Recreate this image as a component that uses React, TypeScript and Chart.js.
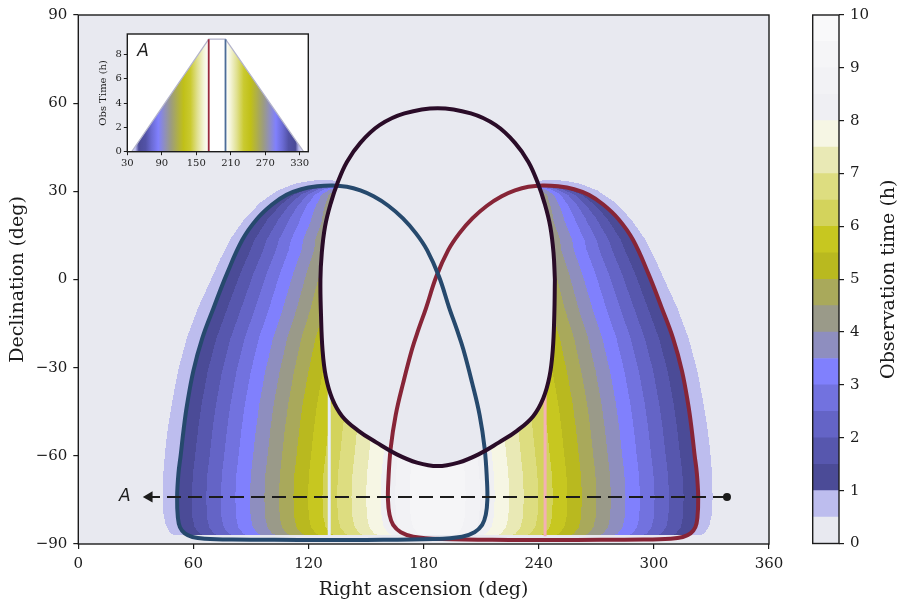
import React, { useEffect, useRef } from "react";
import { Chart, registerables } from "chart.js";

Chart.register(...registerables);

const SERIF = "'DejaVu Serif', serif";
const SANS = "'DejaVu Sans', sans-serif";
const INK = "#1c1c1c";
const PANEL_BG = "#e8e9f0";

// First observing window outline (RA, Dec in degrees)
const blueRA = [115, 80, 66, 59.5, 55.5, 53, 51.9, 51.5, 52.2, 53.4, 54.9, 56.7, 60, 64.6, 70.6, 77.5, 85.5, 93, 101, 108.5, 116.2, 124.5, 132.5, 140, 147, 153.9, 161.6, 169.2, 176, 181.8, 188, 193.4, 197.3, 200.7, 205.2, 209.2, 211.8, 213, 213.2, 212.4, 210.5, 206.5, 200, 185, 150, 115];
const blueDec = [-88.6, -88.5, -88.2, -87.6, -86.4, -84.3, -81, -74, -66, -59.6, -51, -42.6, -31, -20, -9.5, 2, 13.5, 20.5, 25.5, 28.8, 30.7, 31.7, 32, 31.55, 30.3, 28.3, 25.1, 20.8, 15.7, 10, 1, -9.8, -17, -23.8, -35, -46.2, -57.5, -68.5, -75, -80, -83.5, -86, -87.5, -88.3, -88.6, -88.6];

// Second observing window outline
const redRA = [259.6, 294.6, 308.6, 315.1, 319.1, 321.6, 322.7, 323.1, 322.4, 321.2, 319.7, 317.9, 314.6, 310, 304, 297.1, 289.1, 281.6, 273.6, 266.1, 258.4, 250.1, 242.1, 234.6, 227.6, 220.7, 213, 205.4, 198.6, 192.8, 186.6, 181.2, 177.3, 173.9, 169.4, 165.4, 162.8, 161.6, 161.4, 162.2, 164.1, 168.1, 174.6, 189.6, 224.6, 259.6];
const redDec = [-88.6, -88.5, -88.2, -87.6, -86.4, -84.3, -81, -74, -66, -59.6, -51, -42.6, -31, -20, -9.5, 2, 13.5, 20.5, 25.5, 28.8, 30.7, 31.7, 32, 31.55, 30.3, 28.3, 25.1, 20.8, 15.7, 10, 1, -9.8, -17, -23.8, -35, -46.2, -57.5, -68.5, -75, -80, -83.5, -86, -87.5, -88.3, -88.6, -88.6];

// Exclusion zone outline
const sunRA = [248.4, 248.1, 247.3, 245.6, 242.3, 237.1, 228.6, 219.1, 208.6, 198.1, 187.3, 176.5, 166, 155.5, 146, 137.5, 132.3, 129, 127.3, 126.5, 126.2, 126.9, 128.6, 131.6, 135.2, 140, 147, 157, 170, 187.3, 204.6, 217.6, 227.6, 234.6, 239.4, 243, 246, 247.7, 248.4];
const sunDec = [0, -12, -24, -33, -40.5, -46.5, -51.5, -55.5, -59.5, -62.3, -63.5, -62.3, -59.5, -55.5, -51.5, -46.5, -40.5, -33, -24, -12, 0, 9, 18, 26, 33, 40, 46.5, 52.5, 56.5, 58.3, 56.5, 52.5, 46.5, 40, 33, 26, 18, 9, 0];

// Outer edge of the 0.5 h contour
const edgeRA = [52, 48, 45.6, 44.3, 44, 44.3, 45.3, 46.8, 48.8, 52, 56.5, 62.5, 68.5, 74, 79.5, 86.5, 95, 104, 113, 121, 128, 135, 150, 224.6, 239.6, 246.6, 253.6, 261.6, 270.6, 279.6, 288.1, 295.1, 300.6, 306.1, 312.1, 318.1, 322.6, 325.8, 327.8, 329.3, 330.3, 330.6, 330.3, 329, 326.6, 322.6];
const edgeDec = [-87.5, -86.3, -83.5, -79.5, -74, -66, -58, -50, -42, -31, -20, -9.5, -1, 7, 14, 20.5, 26.3, 30.3, 32.6, 33.6, 33.9, 33.6, 30, 30, 33.6, 33.9, 33.6, 32.6, 30.3, 26.3, 20.5, 14, 7, -1, -9.5, -20, -31, -42, -50, -58, -66, -74, -79.5, -83.5, -86.3, -87.5];

// RA degrees per hour of observing time, by declination
const spacingDec = [-90, -30, -10, 10, 20, 26, 30, 32.5];
const spacingDeg = [15.2, 15, 14.5, 13.3, 11.5, 9, 6.5, 5];
const maxHours = 9.27;
const bandFloorDec = -87;

// Colour levels (hours)
const levelEdges = [0, 0.5, 1, 1.5, 2, 2.5, 3, 3.5, 4, 4.5, 5, 5.5, 6, 6.5, 7, 7.5, 8, 8.5, 9, 9.5, 10];
const bandColors = ["#e8e9f0", "#bdbdee", "#4b4b97", "#5757ae", "#6464c6", "#7272df", "#8080fd", "#8e8ebf", "#9a9a89", "#a9a95b", "#b9b91f", "#c7c720", "#d3d35c", "#dddd80", "#e9e9b5", "#f6f6e4", "#efeff3", "#f2f2f5", "#f5f5f7", "#f9f9fa"];
const cbarTicks = [0, 1, 2, 3, 4, 5, 6, 7, 8, 9, 10];

// Vertical markers
const markRA = [130.8, 243.3];
const markTopDec = [-37, -35];
const markBottomDec = -87.4;
const markColors = ["#e4ecfb", "#f3b1b5"];

// Cut A
const cutRA = [338.1, 37.0];
const cutDec = [-74, -74];
const cutLabel = { ra: 24.3, dec: -74, text: "A" };

// Profile along cut A (inset)
const insetRA = [37.7, 171.7, 200.9, 336.8];
const insetHours = [0, 9.27, 9.27, 0];
const insetMarkRA = [171.7, 200.9];
const insetShadeRA = [30, 37.7, 44, 50, 62, 72, 84, 96, 106, 116, 128, 140, 152, 163, 171.7, 200.9, 209.6, 220.6, 232.6, 244.6, 256.6, 266.6, 276.6, 288.6, 300.6, 310.6, 322.6, 328.6, 334.9, 345];
const insetShadeColor = ["#ffffff", "#e6e6f4", "#babaee", "#4b4b97", "#5252a6", "#6a6ad2", "#8080fd", "#9090b8", "#9c9c80", "#acac50", "#c0c018", "#caca30", "#e0e090", "#f4f4d8", "#ffffff", "#ffffff", "#f4f4d8", "#e0e090", "#caca30", "#c0c018", "#acac50", "#9c9c80", "#9090b8", "#8080fd", "#6a6ad2", "#5252a6", "#4b4b97", "#babaee", "#e6e6f4", "#ffffff"];
const insetXTicks = [30, 90, 150, 210, 270, 330];
const insetYTicks = [0, 2, 4, 6, 8];
const insetLabel = { ra: 57.3, hours: 8.27, text: "A" };

const pts = (xs: number[], ys: number[]) => xs.map((x, i) => ({ x, y: ys[i] }));

function interp(xs: number[], ys: number[], v: number): number {
  if (v <= xs[0]) return ys[0];
  for (let i = 1; i < xs.length; i++) {
    if (v <= xs[i]) {
      const f = (v - xs[i - 1]) / (xs[i] - xs[i - 1]);
      return ys[i - 1] + f * (ys[i] - ys[i - 1]);
    }
  }
  return ys[ys.length - 1];
}

// Outer flank of a window outline: walk back from the highest point down to the floor
function outerFlank(ra: number[], dec: number[]) {
  let p = 0;
  for (let i = 1; i < dec.length; i++) if (dec[i] > dec[p]) p = i;
  const d: number[] = [];
  const r: number[] = [];
  for (let i = p; i >= 0; i--) {
    d.unshift(dec[i]);
    r.unshift(ra[i]);
    if (dec[i] <= bandFloorDec) break;
  }
  return { d, r, top: dec[p] };
}

function crossings(ra: number[], dec: number[], y: number): number[] {
  const out: number[] = [];
  for (let i = 0, j = ra.length - 1; i < ra.length; j = i++) {
    if (dec[i] > y !== dec[j] > y) {
      out.push(ra[i] + ((y - dec[i]) * (ra[j] - ra[i])) / (dec[j] - dec[i]));
    }
  }
  return out.sort((a, b) => a - b);
}

function hexRgb(h: string): number[] {
  const n = parseInt(h.slice(1), 16);
  return [(n >> 16) & 255, (n >> 8) & 255, n & 255];
}

const minus = (v: number | string) => String(v).replace("-", "\u2212");

const obsTimeField = {
  id: "obsTimeField",
  beforeDatasetsDraw(chart: any) {
    const { ctx, chartArea: a, scales } = chart;
    const xs = scales.x;
    const ys = scales.y;
    ctx.save();
    ctx.fillStyle = PANEL_BG;
    ctx.fillRect(a.left, a.top, a.right - a.left, a.bottom - a.top);
    const x0 = Math.floor(a.left);
    const y0 = Math.floor(a.top);
    const w = Math.ceil(a.right) - x0;
    const h = Math.ceil(a.bottom) - y0;
    const buf = document.createElement("canvas");
    buf.width = w;
    buf.height = h;
    const bctx = buf.getContext("2d")!;
    const img = bctx.createImageData(w, h);
    const rgb = bandColors.map(hexRgb);
    const L = outerFlank(blueRA, blueDec);
    const R = outerFlank(redRA, redDec);
    const raAt = new Float64Array(w);
    for (let i = 0; i < w; i++) raAt[i] = xs.getValueForPixel(x0 + i + 0.5);
    for (let j = 0; j < h; j++) {
      const dec = ys.getValueForPixel(y0 + j + 0.5);
      if (dec < bandFloorDec || dec > 40) continue;
      const step = interp(spacingDec, spacingDeg, dec);
      const bl = dec <= L.top ? interp(L.d, L.r, dec) : NaN;
      const br = dec <= R.top ? interp(R.d, R.r, dec) : NaN;
      const ex = crossings(edgeRA, edgeDec, dec);
      const sx = crossings(sunRA, sunDec, dec);
      let ei = 0;
      let si = 0;
      for (let i = 0; i < w; i++) {
        const ra = raAt[i];
        while (ei < ex.length && ex[ei] < ra) ei++;
        while (si < sx.length && sx[si] < ra) si++;
        if (si % 2 === 1) continue;
        const tl = isNaN(bl) ? -1 : 1 + (ra - bl) / step;
        const tr = isNaN(br) ? -1 : 1 + (br - ra) / step;
        let t = Math.min(tl, tr, maxHours);
        if (t < 1) t = ei % 2 === 1 ? 0.75 : 0;
        if (t < 0.5) continue;
        const k = Math.min(bandColors.length - 1, Math.floor(t / 0.5));
        const c = rgb[k];
        const o = (j * w + i) * 4;
        img.data[o] = c[0];
        img.data[o + 1] = c[1];
        img.data[o + 2] = c[2];
        img.data[o + 3] = 255;
      }
    }
    bctx.putImageData(img, 0, 0);
    ctx.beginPath();
    ctx.rect(a.left, a.top, a.right - a.left, a.bottom - a.top);
    ctx.clip();
    ctx.drawImage(buf, x0, y0);
    ctx.restore();
  },
  afterDatasetsDraw(chart: any) {
    const { ctx, chartArea: a, scales } = chart;
    ctx.save();
    ctx.strokeStyle = INK;
    ctx.lineWidth = 1.4;
    ctx.strokeRect(a.left, a.top, a.right - a.left, a.bottom - a.top);
    ctx.fillStyle = INK;
    ctx.font = `italic 17px ${SANS}`;
    ctx.textAlign = "center";
    ctx.textBaseline = "middle";
    ctx.fillText(cutLabel.text, scales.x.getPixelForValue(cutLabel.ra), scales.y.getPixelForValue(cutLabel.dec));
    ctx.restore();
  },
};

const cbarDecor = {
  id: "cbarDecor",
  afterDraw(chart: any) {
    const { ctx, chartArea: a } = chart;
    ctx.save();
    ctx.strokeStyle = INK;
    ctx.lineWidth = 1.4;
    ctx.strokeRect(a.left, a.top, a.right - a.left, a.bottom - a.top);
    ctx.translate(99, (a.top + a.bottom) / 2);
    ctx.rotate(-Math.PI / 2);
    ctx.fillStyle = INK;
    ctx.font = `19px ${SERIF}`;
    ctx.textAlign = "center";
    ctx.textBaseline = "middle";
    ctx.fillText("Observation time (h)", 0, 0);
    ctx.restore();
  },
};

const insetDecor = {
  id: "insetDecor",
  beforeDatasetsDraw(chart: any) {
    const { ctx, chartArea: a } = chart;
    ctx.save();
    ctx.fillStyle = "#ffffff";
    ctx.fillRect(a.left, a.top, a.right - a.left, a.bottom - a.top);
    ctx.restore();
  },
  afterDraw(chart: any) {
    const { ctx, chartArea: a, scales } = chart;
    ctx.save();
    ctx.strokeStyle = INK;
    ctx.lineWidth = 1.4;
    ctx.strokeRect(a.left, a.top, a.right - a.left, a.bottom - a.top);
    ctx.fillStyle = INK;
    ctx.font = `italic 17px ${SANS}`;
    ctx.textAlign = "center";
    ctx.textBaseline = "middle";
    ctx.fillText(insetLabel.text, scales.x.getPixelForValue(insetLabel.ra), scales.y.getPixelForValue(insetLabel.hours));
    ctx.restore();
  },
};

const tickFont = { family: SERIF, size: 15 };
const axisGrid = { drawOnChartArea: false, drawTicks: true, tickLength: 5, color: INK, lineWidth: 1.2 };

function mainConfig(): any {
  const line = (color: string, width: number, order: number, data: any[], extra: any = {}) => ({
    data,
    borderColor: color,
    borderWidth: width,
    pointRadius: 0,
    fill: false,
    order,
    ...extra,
  });
  return {
    type: "line",
    data: {
      datasets: [
        line(INK, 2.2, 0, pts(cutRA, cutDec), {
          borderDash: [14, 7],
          pointStyle: ["circle", "triangle"],
          pointRadius: [4, 6.5],
          pointRotation: [0, -90],
          pointBackgroundColor: INK,
          pointBorderColor: INK,
          pointBorderWidth: 0,
        }),
        line("#2a0c28", 4, 1, pts(sunRA, sunDec), { tension: 0.4 }),
        line("#26496d", 4, 2, pts(blueRA, blueDec), { tension: 0.4 }),
        line("#872537", 4, 3, pts(redRA, redDec), { tension: 0.4 }),
        line("rgba(0,0,0,0)", 0, 4, pts(sunRA, sunDec), { tension: 0.4, fill: "shape", backgroundColor: PANEL_BG }),
        ...markRA.map((r, i) =>
          line(markColors[i], 3, 5 + i, [
            { x: r, y: markBottomDec },
            { x: r, y: markTopDec[i] },
          ])
        ),
      ],
    },
    options: {
      responsive: false,
      animation: false,
      devicePixelRatio: 1,
      events: [],
      layout: { padding: { left: 0, right: 132, top: 7.3, bottom: 0 } },
      plugins: { legend: { display: false }, tooltip: { enabled: false } },
      scales: {
        x: {
          type: "linear",
          min: 0,
          max: 360,
          ticks: { stepSize: 60, color: INK, font: tickFont, padding: 6, maxRotation: 0 },
          grid: axisGrid,
          border: { display: false },
          title: { display: true, text: "Right ascension (deg)", color: INK, font: { family: SERIF, size: 19 }, padding: { top: 0, bottom: 7 } },
          afterFit: (s: any) => {
            s.height = 64;
          },
        },
        y: {
          type: "linear",
          min: -90,
          max: 90,
          ticks: { stepSize: 30, color: INK, font: tickFont, padding: 6, callback: (v: number) => minus(v) },
          grid: axisGrid,
          border: { display: false },
          title: { display: true, text: "Declination (deg)", color: INK, font: { family: SERIF, size: 19 }, padding: { top: 7, bottom: 0 } },
          afterFit: (s: any) => {
            s.width = 78.3;
          },
        },
      },
    },
    plugins: [obsTimeField],
  };
}

function cbarConfig(): any {
  return {
    type: "bar",
    data: {
      labels: [""],
      datasets: bandColors.map((c, k) => ({
        data: [[levelEdges[k], levelEdges[k + 1]]],
        backgroundColor: c,
        borderWidth: 0,
        grouped: false,
        barPercentage: 1,
        categoryPercentage: 1,
      })),
    },
    options: {
      responsive: false,
      animation: false,
      devicePixelRatio: 1,
      events: [],
      layout: { padding: { left: 22.7, top: 7.3, bottom: 64.5, right: 0 } },
      plugins: { legend: { display: false }, tooltip: { enabled: false } },
      scales: {
        x: { display: false },
        y: {
          position: "right",
          min: 0,
          max: 10,
          afterBuildTicks: (s: any) => {
            s.ticks = cbarTicks.map((v) => ({ value: v }));
          },
          ticks: { color: INK, font: tickFont, padding: 6 },
          grid: axisGrid,
          border: { display: false },
          afterFit: (s: any) => {
            s.width = 62;
          },
        },
      },
    },
    plugins: [cbarDecor],
  };
}

function insetConfig(): any {
  const small = { family: SERIF, size: 10 };
  const grid = { drawOnChartArea: false, drawTicks: true, tickLength: 3.5, color: INK, lineWidth: 1 };
  const shade = (c: any) => {
    const ch = c.chart;
    const a = ch.chartArea;
    if (!a) return "rgba(0,0,0,0)";
    const xs = ch.scales.x;
    const g = ch.ctx.createLinearGradient(a.left, 0, a.right, 0);
    insetShadeRA.forEach((r, i) => {
      const pos = (xs.getPixelForValue(r) - a.left) / (a.right - a.left);
      g.addColorStop(Math.max(0, Math.min(1, pos)), insetShadeColor[i]);
    });
    return g;
  };
  const peak = Math.max(...insetHours);
  const mark = (r: number, color: string, order: number) => ({
    data: [
      { x: r, y: 0 },
      { x: r, y: peak },
    ],
    borderColor: color,
    borderWidth: 1.8,
    pointRadius: 0,
    fill: false,
    order,
  });
  return {
    type: "line",
    data: {
      datasets: [
        {
          data: pts(insetRA, insetHours),
          borderColor: "#b3b3cb",
          borderWidth: 1.2,
          pointRadius: 0,
          fill: "origin",
          backgroundColor: shade,
          order: 2,
        },
        mark(insetMarkRA[0], "#9a2b3d", 1),
        mark(insetMarkRA[1], "#4d6d98", 0),
      ],
    },
    options: {
      responsive: false,
      animation: false,
      devicePixelRatio: 1,
      events: [],
      layout: { padding: { left: 0, right: 6.7, top: 6.3, bottom: 0 } },
      plugins: { legend: { display: false }, tooltip: { enabled: false } },
      scales: {
        x: {
          type: "linear",
          min: 30,
          max: 345,
          afterBuildTicks: (s: any) => {
            s.ticks = insetXTicks.map((v) => ({ value: v }));
          },
          ticks: { color: INK, font: small, padding: 2, maxRotation: 0 },
          grid,
          border: { display: false },
          afterFit: (s: any) => {
            s.height = 24.3;
          },
        },
        y: {
          type: "linear",
          min: 0,
          max: 9.7,
          afterBuildTicks: (s: any) => {
            s.ticks = insetYTicks.map((v) => ({ value: v }));
          },
          ticks: { color: INK, font: small, padding: 2 },
          grid,
          border: { display: false },
          title: { display: true, text: "Obs Time (h)", color: INK, font: small, padding: { top: 7, bottom: 0 } },
          afterFit: (s: any) => {
            s.width = 37.3;
          },
        },
      },
    },
    plugins: [insetDecor],
  };
}

export default function App() {
  const mainRef = useRef<HTMLCanvasElement>(null);
  const cbarRef = useRef<HTMLCanvasElement>(null);
  const insetRef = useRef<HTMLCanvasElement>(null);

  useEffect(() => {
    document.body.style.margin = "0";
    const charts = [
      new Chart(mainRef.current as HTMLCanvasElement, mainConfig()),
      new Chart(cbarRef.current as HTMLCanvasElement, cbarConfig()),
      new Chart(insetRef.current as HTMLCanvasElement, insetConfig()),
    ];
    return () => charts.forEach((c) => c.destroy());
  }, []);

  return (
    <div style={{ position: "relative", width: 901, height: 608, background: "#ffffff", overflow: "hidden" }}>
      <canvas ref={mainRef} width={901} height={608} style={{ position: "absolute", left: 0, top: 0 }} />
      <canvas ref={cbarRef} width={111} height={608} style={{ position: "absolute", left: 790, top: 0 }} />
      <canvas ref={insetRef} width={225} height={150} style={{ position: "absolute", left: 90, top: 26 }} />
    </div>
  );
}
